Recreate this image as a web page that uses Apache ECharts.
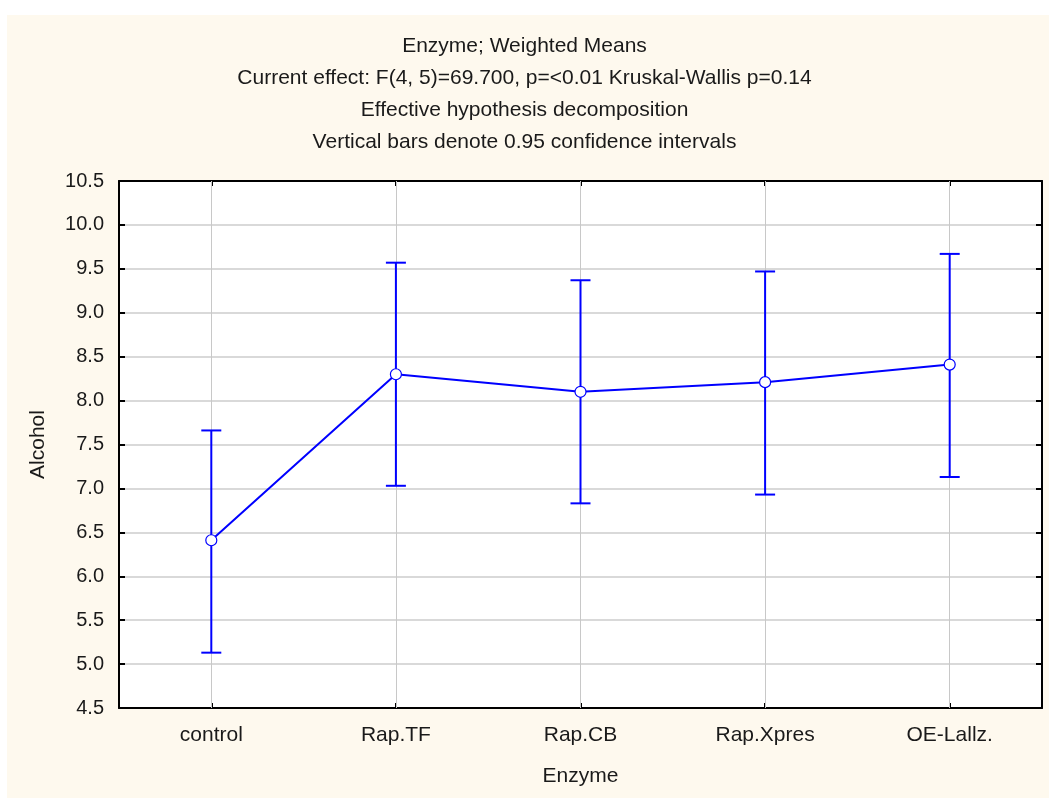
<!DOCTYPE html>
<html>
<head>
<meta charset="utf-8">
<script src="https://cdn.jsdelivr.net/npm/echarts@6/dist/echarts.min.js"></script>
<style>
  html, body { margin: 0; padding: 0; background: #ffffff; }
  #wrap { position: relative; width: 1049px; height: 798px; background: #ffffff; }
  #cream { position: absolute; left: 7px; top: 15px; right: 0; bottom: 0; background: #FEF9EE; }
  #chart { position: absolute; left: 0; top: 0; width: 1049px; height: 798px; }
</style>
</head>
<body>
<div id="wrap">
  <div id="cream"></div>
  <div id="chart"></div>
</div>
<script>
// ---- Data ----
const categories = ['control', 'Rap.TF', 'Rap.CB', 'Rap.Xpres', 'OE-Lallz.'];
const means = [6.41, 8.30, 8.10, 8.21, 8.41];
const lower = [5.13, 7.03, 6.83, 6.93, 7.13];
const upper = [7.66, 9.57, 9.37, 9.47, 9.67];
const titleLines = [
  'Enzyme; Weighted Means',
  'Current effect: F(4, 5)=69.700, p=<0.01 Kruskal-Wallis p=0.14',
  'Effective hypothesis decomposition',
  'Vertical bars denote 0.95 confidence intervals'
];
const yName = 'Alcohol';
const xName = 'Enzyme';

const FONT = 'Liberation Sans, Arial, sans-serif';
const BLUE = '#0000FF';

const chart = echarts.init(document.getElementById('chart'));

const errData = categories.map((c, i) => [i, lower[i], upper[i]]);

const option = {
  backgroundColor: 'transparent',
  animation: false,
  textStyle: { fontFamily: FONT },
  title: {
    text: titleLines.join('\n'),
    left: 'center',
    top: 25,
    textStyle: { fontFamily: FONT, fontSize: 21, fontWeight: 'normal', color: '#1a1a1a', lineHeight: 32 }
  },
  grid: {
    left: 119, right: 7, top: 181, bottom: 90,
    show: true, backgroundColor: '#ffffff', borderColor: '#000', borderWidth: 0
  },
  xAxis: [
    {
      type: 'category', data: categories, boundaryGap: true, position: 'bottom',
      name: xName, nameLocation: 'middle', nameGap: 58,
      nameTextStyle: { fontFamily: FONT, fontSize: 21, color: '#1a1a1a' },
      axisLine: { show: true, lineStyle: { color: '#000', width: 2 } },
      axisTick: { show: true, inside: true, alignWithLabel: true, length: 5, lineStyle: { color: '#000', width: 2 } },
      axisLabel: { fontFamily: FONT, fontSize: 21, color: '#1a1a1a', margin: 17 },
      splitLine: { show: false }
    },
    {
      type: 'category', data: categories, boundaryGap: true, position: 'top',
      axisLine: { show: true, lineStyle: { color: '#000', width: 2 } },
      axisTick: { show: true, inside: true, alignWithLabel: true, length: 5, lineStyle: { color: '#000', width: 2 } },
      axisLabel: { show: false },
      splitLine: { show: false }
    }
  ],
  yAxis: [
    {
      type: 'value', min: 4.5, max: 10.5, interval: 0.5, position: 'left',
      name: yName, nameLocation: 'middle', nameGap: 70, nameRotate: 90,
      nameTextStyle: { fontFamily: FONT, fontSize: 21, color: '#1a1a1a' },
      axisLine: { show: true, lineStyle: { color: '#000', width: 2 } },
      axisTick: { show: true, inside: true, length: 6, lineStyle: { color: '#000', width: 2 } },
      axisLabel: { fontFamily: FONT, fontSize: 20, color: '#1a1a1a', margin: 15, formatter: v => v.toFixed(1) },
      splitLine: { show: true, lineStyle: { color: '#d9d9d9', width: 2 } }
    },
    {
      type: 'value', min: 4.5, max: 10.5, interval: 0.5, position: 'right',
      axisLine: { show: true, lineStyle: { color: '#000', width: 2 } },
      axisTick: { show: true, inside: true, length: 6, lineStyle: { color: '#000', width: 2 } },
      axisLabel: { show: false },
      splitLine: { show: false }
    }
  ],
  series: [
    {
      type: 'line', xAxisIndex: 0, yAxisIndex: 0, data: [], silent: true, z: 1,
      markLine: {
        silent: true, z: 1, symbol: ['none', 'none'], label: { show: false },
        lineStyle: { color: '#c8c8c8', width: 1, type: 'solid' },
        data: categories.map(c => ({ xAxis: c }))
      }
    },
    {
      type: 'custom', xAxisIndex: 0, yAxisIndex: 0, data: errData, z: 8,
      renderItem: function (params, api) {
        const x = api.value(0);
        const lo = api.coord([x, api.value(1)]);
        const hi = api.coord([x, api.value(2)]);
        const half = 10;
        const style = { stroke: BLUE, lineWidth: 2, fill: null };
        return {
          type: 'group',
          children: [
            { type: 'line', shape: { x1: lo[0], y1: lo[1], x2: hi[0], y2: hi[1] }, style },
            { type: 'line', shape: { x1: hi[0] - half, y1: hi[1], x2: hi[0] + half, y2: hi[1] }, style },
            { type: 'line', shape: { x1: lo[0] - half, y1: lo[1], x2: lo[0] + half, y2: lo[1] }, style }
          ]
        };
      }
    },
    {
      type: 'line', xAxisIndex: 0, yAxisIndex: 0, data: means, z: 10,
      symbol: 'circle', symbolSize: 11, showSymbol: true,
      lineStyle: { color: BLUE, width: 2 },
      itemStyle: { color: '#ffffff', borderColor: BLUE, borderWidth: 1.2 }
    }
  ]
};

chart.setOption(option);
</script>
</body>
</html>
